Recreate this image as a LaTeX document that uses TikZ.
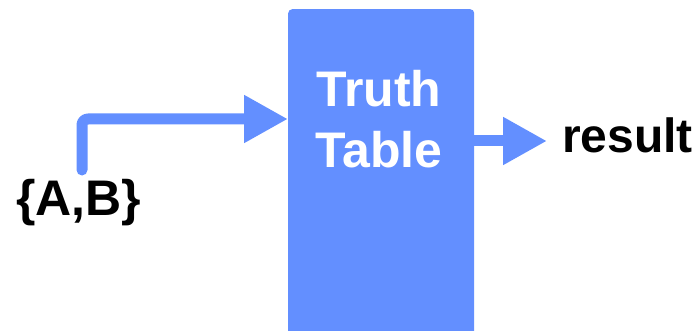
\documentclass[tikz,border=0pt]{standalone}
\usepackage{fontspec}
\setmainfont{Liberation Sans}
\usetikzlibrary{arrows.meta}
\definecolor{boxblue}{RGB}{99,143,255}
\tikzset{
  bigtext/.style={font=\fontsize{50pt}{60pt}\selectfont\bfseries, inner sep=0pt},
  flow/.style={draw=boxblue, line width=11pt, line cap=round, line join=round,
    -{Triangle[length=44pt,width=45pt]}},
  tablebox/.style={fill=boxblue, draw=none, rounded corners=4pt, inner sep=0pt, anchor=north west}
}
\begin{document}
\begin{tikzpicture}[x=1pt,y=-1pt]
\useasboundingbox (0,0) rectangle (700,331);
\clip (0,0) rectangle (700,331);
\node[tablebox, minimum width=186pt, minimum height=340pt] (tt) at (288,9) {};
\node[bigtext, text=white, anchor=base] (truth) at (379,107) {Truth};
\node[bigtext, text=white, anchor=base] (table) at (379,167) {Table};
\node[bigtext, anchor=base west] (ab) at (16,215) {\{A,B\}};
\node[bigtext, font=\fontsize{48pt}{58pt}\selectfont\bfseries, anchor=base west] (res) at (562,153) {result};
\coordinate (inA) at (82,170);
\coordinate (inTip) at (288,119);
\coordinate (outS) at (470,141);
\coordinate (outTip) at (547,141);
\draw[flow, rounded corners=6pt] (inA) |- (inTip);
\draw[flow] (outS) -- (outTip);
\end{tikzpicture}
\end{document}
